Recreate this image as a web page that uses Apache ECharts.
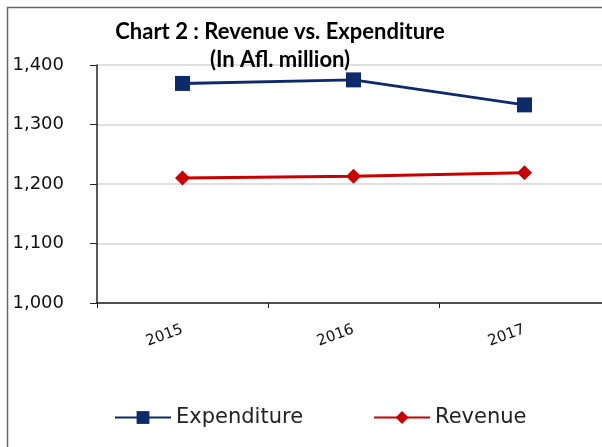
<!DOCTYPE html>
<html lang="en">
<head>
    <meta charset="UTF-8">
    <title>Chart 2</title>
    <script src="https://cdn.jsdelivr.net/npm/echarts@6/dist/echarts.min.js"></script>
    <style>body{margin:0;background:#fff}</style>
</head>
<body>
<div id="chart" style="width:602px;height:447px"></div>
<script>
    var years = ['2015', '2016', '2017'];
    var expenditure = [1369, 1375, 1333];
    var revenue = [1210, 1213, 1219];
    var yTicks = [1000, 1100, 1200, 1300, 1400];

    var chart = echarts.init(document.getElementById('chart'));
    var option = {
        backgroundColor: '#fff',
        animation: false,
        title: {
            text: 'Chart 2 : Revenue vs. Expenditure\n(In Afl. million)',
            left: 275,
            textAlign: 'center',
            top: 13,
            textStyle: {
                fontFamily: 'Lato',
                fontWeight: 'bold',
                fontSize: 22,
                lineHeight: 28,
                color: '#000'
            }
        },
        graphic: [{
            type: 'rect',
            shape: {x: 7.5, y: 7.5, width: 700, height: 600},
            style: {fill: 'none', stroke: '#666', lineWidth: 1.5},
            z: -1
        }],
        legend: {
            left: 109,
            top: 402,
            itemWidth: 56,
            itemHeight: 16,
            itemGap: 70,
            textStyle: {fontFamily: 'DejaVu Sans', fontSize: 21, color: '#222'},
            data: ['Expenditure', 'Revenue']
        },
        grid: {left: 97, top: 65, width: 513, height: 238, outerBoundsMode: 'none', containLabel: false},
        xAxis: {
            type: 'category',
            data: years,
            boundaryGap: true,
            axisLine: {lineStyle: {color: '#222', width: 1.5}},
            axisTick: {show: true, length: 5, lineStyle: {color: '#222'}},
            axisLabel: {
                rotate: 20,
                margin: 26,
                fontFamily: 'DejaVu Sans',
                fontSize: 15,
                color: '#111'
            }
        },
        yAxis: {
            type: 'value',
            min: yTicks[0],
            max: yTicks[yTicks.length - 1],
            interval: 100,
            axisLine: {show: true, lineStyle: {color: '#222', width: 1.5}},
            axisTick: {show: true, length: 7, lineStyle: {color: '#222'}},
            splitLine: {lineStyle: {color: '#d4d4d4', width: 1.5}},
            axisLabel: {
                margin: 33,
                fontFamily: 'DejaVu Sans',
                fontSize: 18,
                color: '#111',
                formatter: function (v) { return echarts.format.addCommas(v); }
            }
        },
        series: [{
            name: 'Expenditure',
            type: 'line',
            data: expenditure,
            symbol: 'rect',
            symbolSize: 15,
            lineStyle: {color: '#0d2a6b', width: 3},
            itemStyle: {color: '#0d2a6b'}
        }, {
            name: 'Revenue',
            type: 'line',
            data: revenue,
            symbol: 'diamond',
            symbolSize: 15,
            lineStyle: {color: '#c80000', width: 3},
            itemStyle: {color: '#c80000'}
        }]
    };
    chart.setOption(option);
</script>
</body>
</html>
